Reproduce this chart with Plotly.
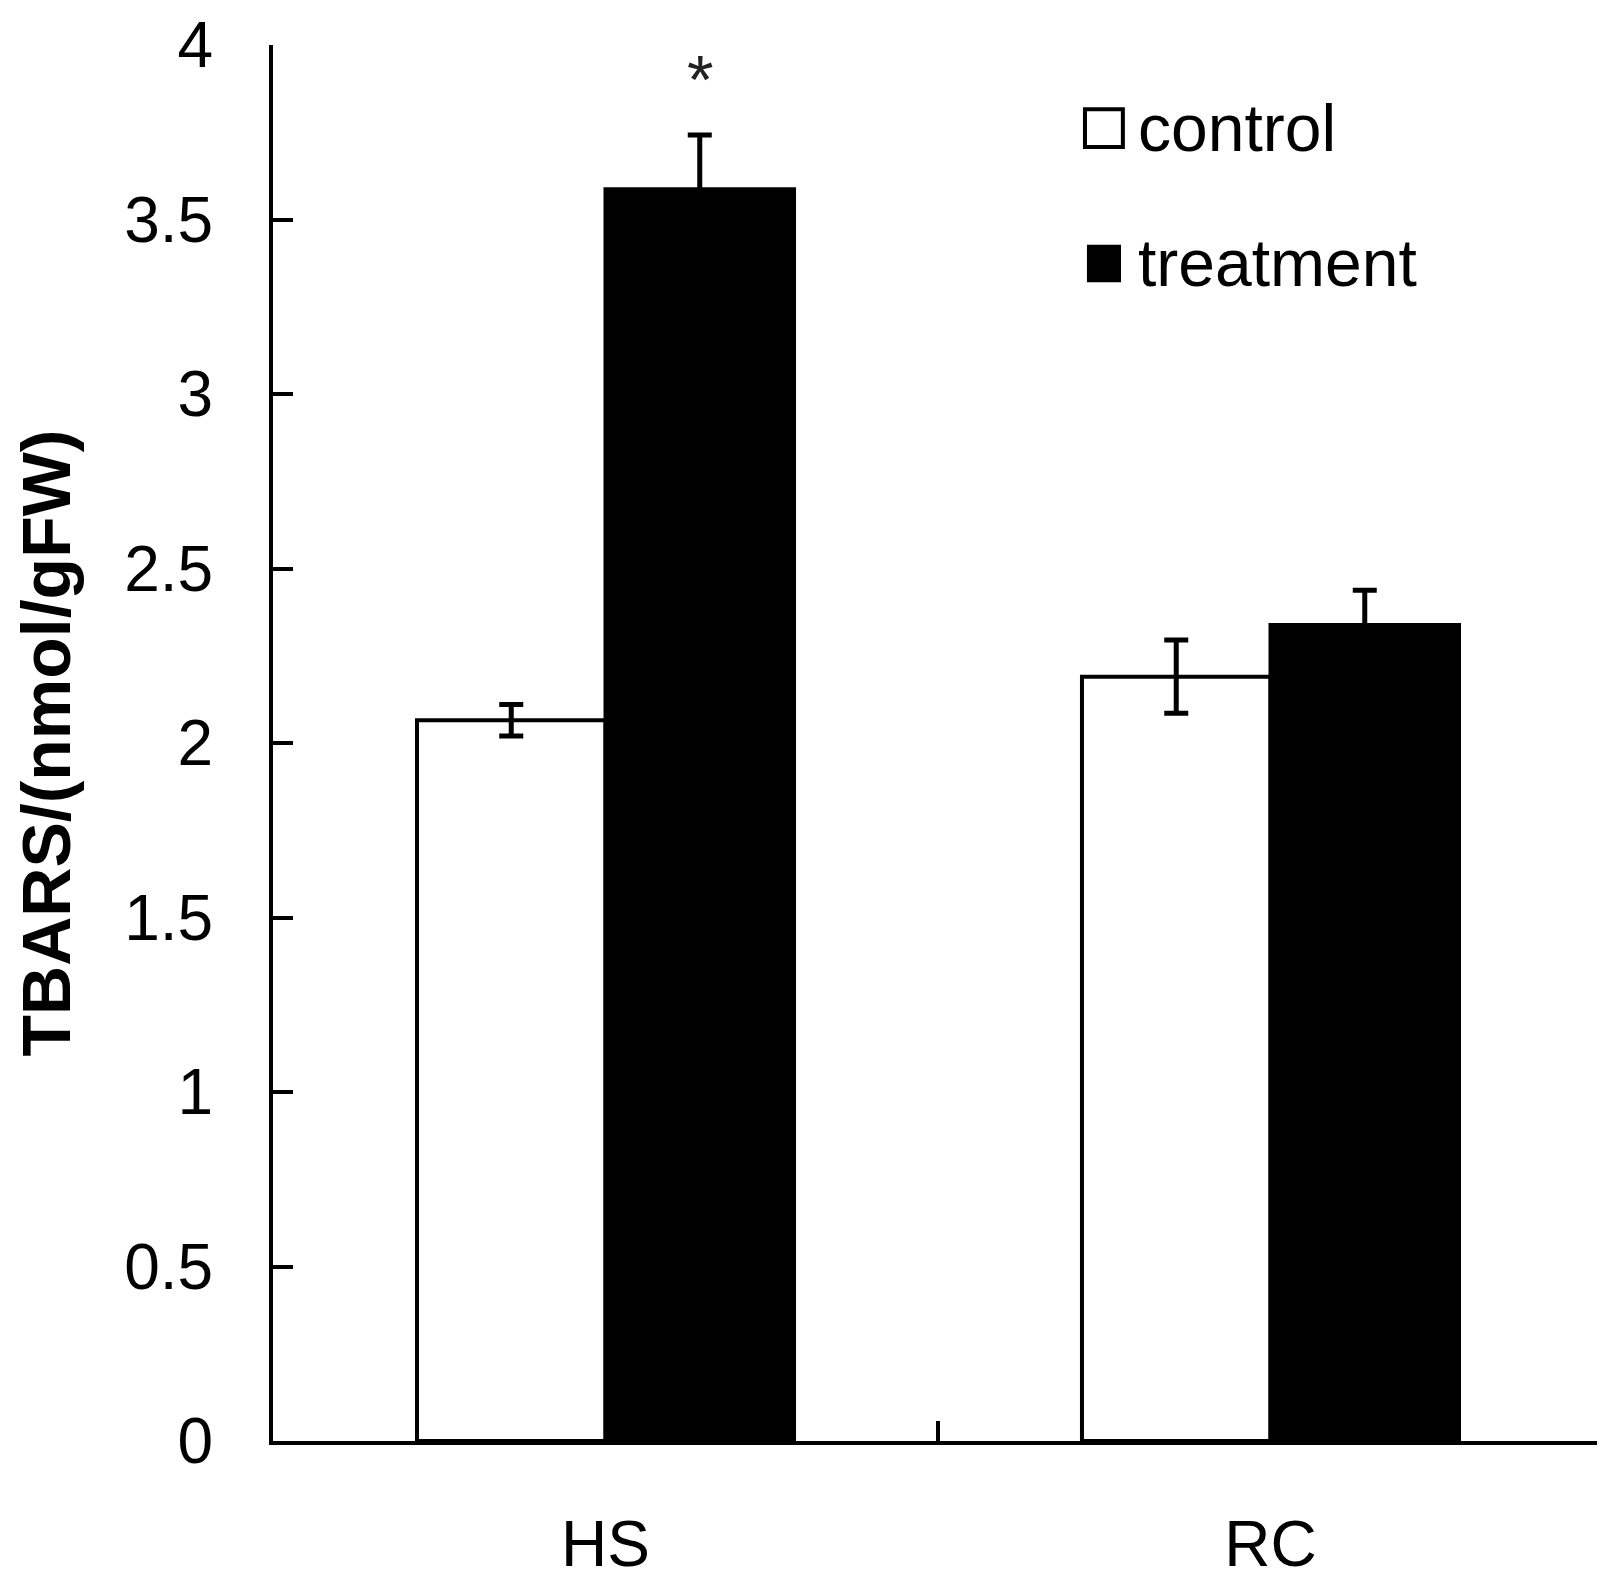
import plotly.graph_objects as go

categories = ["HS", "RC"]
control_values = [2.065, 2.19]
control_errors = [0.045, 0.105]
treatment_values = [3.587, 2.338]
treatment_errors = [0.155, 0.10]
y_tick_values = [0, 0.5, 1, 1.5, 2, 2.5, 3, 3.5, 4]
y_tick_text = ["0", "0.5", "1", "1.5", "2", "2.5", "3", "3.5", "4"]
significance = ["*", ""]

FONT = "Liberation Sans, Arial, sans-serif"
BARGAP = 0.433
LW = 4

fig = go.Figure()
fig.add_trace(go.Bar(
    name="control", x=categories, y=control_values,
    marker=dict(color="white", line=dict(color="black", width=LW)),
    error_y=dict(type="data", array=control_errors, color="black", thickness=5, width=12),
    showlegend=False,
))
fig.add_trace(go.Bar(
    name="treatment", x=categories, y=treatment_values,
    marker=dict(color="black", line=dict(color="black", width=LW)),
    error_y=dict(type="data", array=treatment_errors, color="black", thickness=5, width=12),
    showlegend=False,
))

# significance markers above treatment bars
bar_w = (1 - BARGAP) / 2
for i, s in enumerate(significance):
    if s:
        fig.add_annotation(
            x=i + bar_w / 2, xref="x", y=treatment_values[i] + treatment_errors[i], yref="y",
            text=s, showarrow=False, yanchor="middle", yshift=56,
            font=dict(family=FONT, size=68, color="#222"),
        )

# manual legend (large squares like the original)
legend_items = [("control", "white", 0.6105, 0.639, 0.927, 0.954, 0.9405),
                ("treatment", "black", 0.612, 0.6376, 0.830, 0.857, 0.8435)]
for name, col, x0, x1, y0, y1, ty in legend_items:
    fig.add_shape(type="rect", xref="paper", yref="paper", x0=x0, x1=x1, y0=y0, y1=y1,
                  fillcolor=col, line=dict(color="black", width=4 if col == "white" else 0))
    fig.add_annotation(x=0.649, y=ty, xref="paper", yref="paper", text=name, showarrow=False,
                       xanchor="left", yanchor="middle",
                       font=dict(family=FONT, size=66, color="black"))

fig.update_layout(
    width=1605, height=1582,
    margin=dict(l=265, r=10, t=37, b=132),
    paper_bgcolor="white", plot_bgcolor="white",
    barmode="group", bargap=BARGAP, bargroupgap=0,
    font=dict(family=FONT, color="black"),
    showlegend=False,
)
fig.update_xaxes(
    type="category", range=[-0.5, 1.5],
    showline=True, linecolor="black", linewidth=LW, mirror=False,
    ticks="inside", tickson="boundaries", ticklen=20, tickwidth=LW, tickcolor="black",
    tickfont=dict(family=FONT, size=64, color="black"),
    ticklabelstandoff=44,
    showgrid=False, zeroline=False,
)
fig.update_yaxes(
    range=[0, 4], tickvals=y_tick_values, ticktext=y_tick_text,
    showline=True, linecolor="black", linewidth=LW, mirror=False,
    ticks="inside", ticklen=20, tickwidth=LW, tickcolor="black",
    tickfont=dict(family=FONT, size=64, color="black"),
    ticklabelstandoff=43,
    showgrid=False, zeroline=False,
    title=dict(text="<b>TBARS/(nmol/gFW)</b>", font=dict(family=FONT, size=68, color="black"), standoff=64),
    automargin=False,
)

fig.write_html("out.html")
